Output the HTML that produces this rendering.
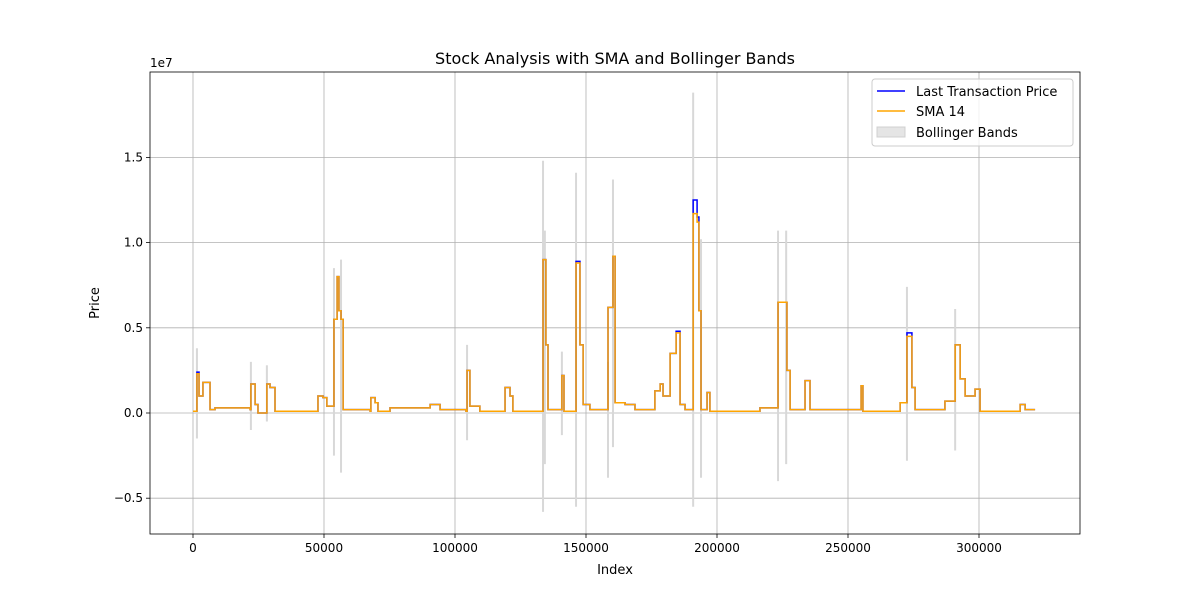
<!DOCTYPE html>
<html><head><meta charset="utf-8"><style>
body{margin:0;background:#fff;font-family:"Liberation Sans","DejaVu Sans",sans-serif;}
svg text{font-family:"DejaVu Sans","Liberation Sans",sans-serif;}
</style></head><body>
<svg id="chart" width="1200" height="600" xmlns="http://www.w3.org/2000/svg">
<rect width="1200" height="600" fill="#fff"/>
<g id="grid"></g><g id="bands"></g><g id="lines"></g><g id="axes"></g>
</svg>
<script>
// data (index in thousands, price in 1e7)
const idx=[0,1.5,2.3,3.8,5.7,6.5,8.4,21.8,22.1,23.7,24.8,28.2,29.4,31.3,47.7,49.6,51.1,53.8,55.0,55.7,56.5,57.3,67.6,67.9,69.5,70.6,75.2,90.5,94.3,104.2,104.6,105.7,109.5,119.1,121.0,122.1,133.2,133.6,134.7,135.5,140.5,140.8,141.6,145.8,146.2,147.7,148.9,151.5,158.0,158.4,159.9,160.3,161.1,164.9,168.7,176.3,178.3,179.4,182.1,184.4,185.9,187.8,190.5,190.9,192.4,193.1,193.9,196.2,197.3,216.4,222.9,223.3,226.7,227.9,233.6,235.5,254.6,255.0,255.7,269.9,272.5,274.4,275.6,287.0,290.9,292.8,294.7,298.5,300.4,315.7,317.6,321.4];
const price=[0.01,0.24,0.1,0.18,0.18,0.02,0.03,0.02,0.17,0.05,0.0,0.17,0.15,0.01,0.1,0.09,0.04,0.55,0.8,0.6,0.55,0.02,0.01,0.09,0.06,0.01,0.03,0.05,0.02,0.01,0.25,0.04,0.01,0.15,0.1,0.01,0.01,0.9,0.4,0.02,0.02,0.22,0.01,0.01,0.89,0.4,0.05,0.02,0.02,0.62,0.62,0.92,0.06,0.05,0.02,0.13,0.17,0.1,0.35,0.48,0.05,0.02,0.02,1.25,1.15,0.6,0.02,0.12,0.01,0.03,0.03,0.65,0.25,0.02,0.19,0.02,0.02,0.16,0.01,0.06,0.47,0.15,0.02,0.07,0.4,0.2,0.1,0.14,0.01,0.05,0.02,0.02];
const sma=[0.01,0.23,0.1,0.18,0.18,0.02,0.03,0.02,0.17,0.05,0.0,0.17,0.15,0.01,0.1,0.09,0.04,0.55,0.8,0.6,0.55,0.02,0.01,0.09,0.06,0.01,0.03,0.05,0.02,0.01,0.25,0.04,0.01,0.15,0.1,0.01,0.01,0.9,0.4,0.02,0.02,0.22,0.01,0.01,0.88,0.4,0.05,0.02,0.02,0.62,0.62,0.92,0.06,0.05,0.02,0.13,0.17,0.1,0.35,0.47,0.05,0.02,0.02,1.17,1.12,0.6,0.02,0.12,0.01,0.03,0.03,0.65,0.25,0.02,0.19,0.02,0.02,0.16,0.01,0.06,0.45,0.15,0.02,0.07,0.4,0.2,0.1,0.14,0.01,0.05,0.02,0.02];
const bandIdx=[1.5,22.1,28.2,53.8,56.5,104.6,133.6,134.3,140.8,146.2,158.4,160.3,190.9,193.9,223.3,226.4,272.5,290.9];
const bandUp=[0.38,0.3,0.28,0.85,0.9,0.4,1.48,1.07,0.36,1.41,0.3,1.37,1.88,1.02,1.07,1.07,0.74,0.61];
const bandLo=[-0.15,-0.1,-0.05,-0.25,-0.35,-0.16,-0.58,-0.3,-0.13,-0.55,-0.38,-0.2,-0.55,-0.38,-0.4,-0.3,-0.28,-0.22];
const xTicks=[0,50000,100000,150000,200000,250000,300000];
const yTicks=[-0.5,0.0,0.5,1.0,1.5];

const L=150,R=1080,T=72,B=534;
const X=k=>193+k*131/50;
const Y=v=>413-v*170.4;
const NS='http://www.w3.org/2000/svg';
function mk(p,t,a){const e=document.createElementNS(NS,t);for(const k in a)e.setAttribute(k,a[k]);p.appendChild(e);return e;}
const grid=document.getElementById('grid'),bands=document.getElementById('bands'),lines=document.getElementById('lines'),axes=document.getElementById('axes');
xTicks.forEach(t=>{const x=X(t/1000);
 const g=mk(grid,'line',{x1:x,x2:x,y1:T,y2:B,stroke:'#b0b0b0','stroke-width':0.8});
 
 mk(axes,'line',{x1:x,x2:x,y1:B,y2:B+4,stroke:'#000','stroke-width':0.8});
 const tx=mk(axes,'text',{x:x,y:B+18,'text-anchor':'middle','font-size':12});tx.textContent=t;
 });
yTicks.forEach(t=>{const y=Y(t);
 const g=mk(grid,'line',{x1:L,x2:R,y1:y,y2:y,stroke:'#b0b0b0','stroke-width':0.8});
 
 mk(axes,'line',{x1:L-4,x2:L,y1:y,y2:y,stroke:'#000','stroke-width':0.8});
 const tx=mk(axes,'text',{x:L-7,y:y+4,'text-anchor':'end','font-size':12});tx.textContent=t.toFixed(1).replace('-','−');
 });
bandIdx.forEach((k,i)=>{const b=mk(bands,'line',{x1:X(k),x2:X(k),y1:Y(bandUp[i]),y2:Y(bandLo[i]),stroke:'#d8d8d8','stroke-width':2});
 });
function step(vals){let d='';idx.forEach((k,i)=>{const x=X(k),y=Y(vals[i]);if(i==0)d='M'+x+' '+y;else d+=' H'+x+' V'+y;});return d;}
const pl=mk(lines,'path',{d:step(price),fill:'none',stroke:'#0000ff','stroke-width':1.5});

const sl=mk(lines,'path',{d:step(sma),fill:'none',stroke:'#ffa500','stroke-width':1.5});

const fr=mk(axes,'rect',{x:L,y:T,width:R-L,height:B-T,fill:'none',stroke:'#000','stroke-width':0.8});

</script>
<svg style="position:absolute;left:0;top:0" width="1200" height="600" xmlns="http://www.w3.org/2000/svg">
<text x="615" y="64" text-anchor="middle" font-size="16">Stock Analysis with SMA and Bollinger Bands</text>
<text x="150" y="67" font-size="12">1e7</text>
<text x="615" y="574" text-anchor="middle" font-size="13">Index</text>
<text transform="translate(99,303) rotate(-90)" text-anchor="middle" font-size="13">Price</text>
<g>
<rect x="872" y="79" width="201" height="67" rx="3" fill="#fff" fill-opacity="0.8" stroke="#ccc"/>
<line x1="877" x2="905" y1="91" y2="91" stroke="#0000ff" stroke-width="1.5"/>
<text x="916" y="96" font-size="13">Last Transaction Price</text>
<line x1="877" x2="905" y1="111" y2="111" stroke="#ffa500" stroke-width="1.5"/>
<text x="916" y="116" font-size="13">SMA 14</text>
<rect x="877" y="127" width="28" height="10" fill="#e5e5e5" stroke="#d0d0d0"/>
<text x="916" y="137" font-size="13">Bollinger Bands</text>
</g>
</svg>
</body></html>
